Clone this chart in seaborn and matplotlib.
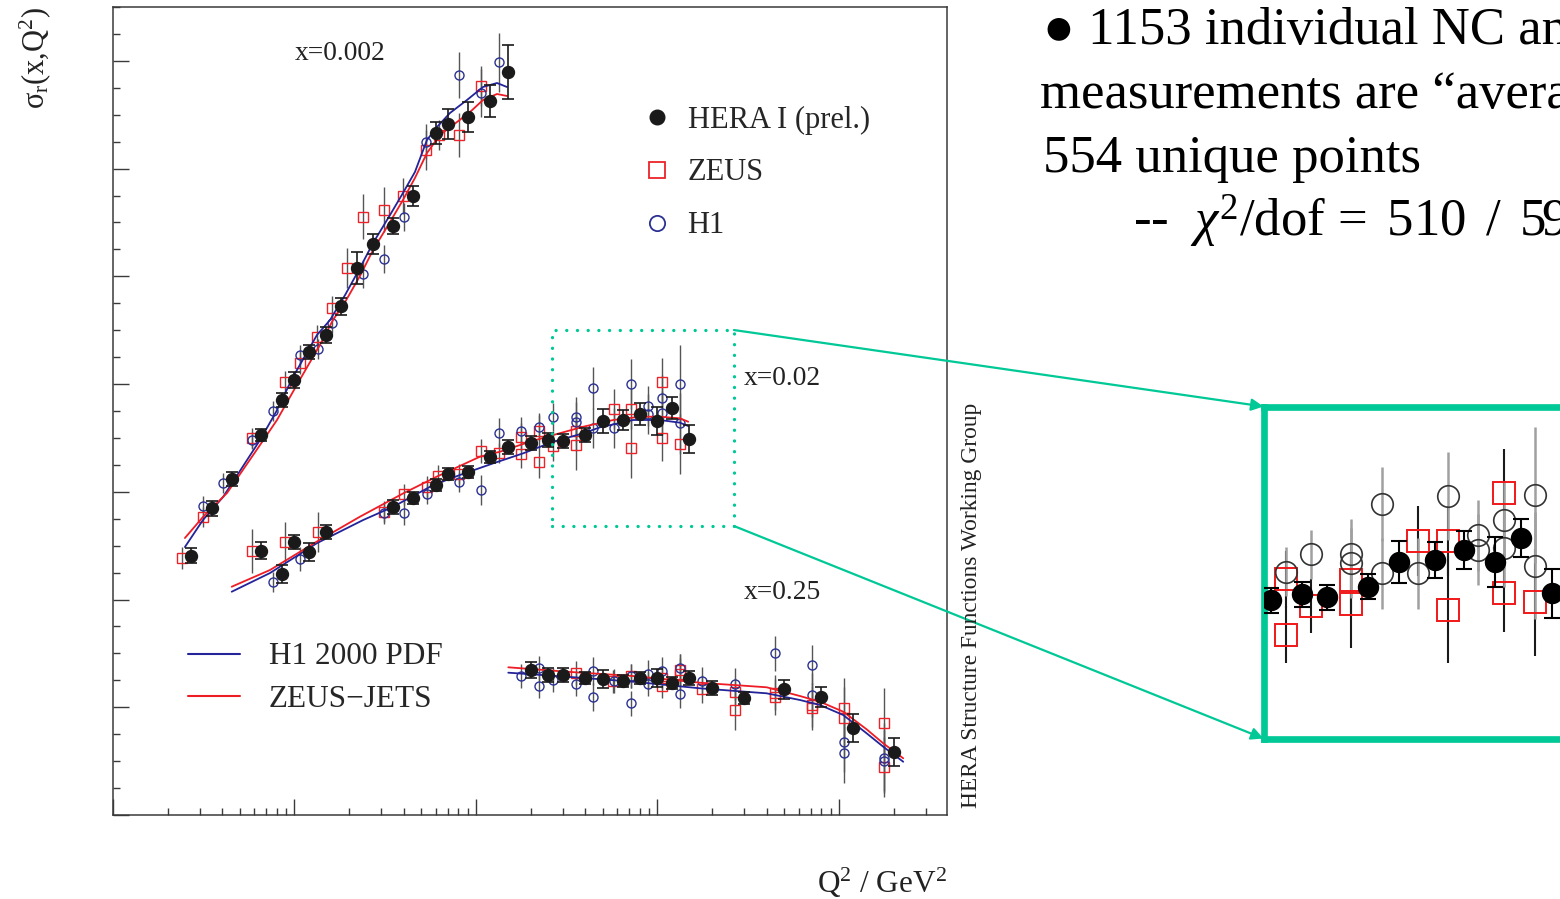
import numpy as np
import pandas as pd
import matplotlib
matplotlib.use("Agg")
import matplotlib.pyplot as plt
import seaborn as sns
from matplotlib.lines import Line2D
from matplotlib.patches import Rectangle, ConnectionPatch
from matplotlib.ticker import LogLocator, NullFormatter, MultipleLocator

# ---------------- reduced cross section sigma_r(x, Q^2) ----------------
# x = 0.002
q2_hera_002 = [2.7, 3.5, 4.5, 6.5, 8.5, 10, 12, 15, 18, 22, 27, 35, 45, 60, 70, 90, 120, 150]
sr_hera_002 = [0.481, 0.569, 0.624, 0.705, 0.770, 0.808, 0.859, 0.891, 0.944, 1.015, 1.060,
               1.094, 1.149, 1.266, 1.283, 1.296, 1.326, 1.379]
er_hera_002 = [0.014, 0.013, 0.013, 0.011, 0.013, 0.015, 0.013, 0.015, 0.015, 0.030, 0.019,
               0.015, 0.019, 0.020, 0.028, 0.028, 0.030, 0.050]

q2_zeus_002 = [2.40, 3.15, 5.81, 8.90, 10.7, 13.3, 16.0, 19.5, 23.9, 31.2, 39.8, 53.2, 62.8, 80.3, 106.5]
sr_zeus_002 = [0.477, 0.553, 0.699, 0.803, 0.840, 0.888, 0.941, 1.015, 1.111, 1.124, 1.149,
               1.235, 1.262, 1.262, 1.354]
er_zeus_002 = [0.020, 0.019, 0.019, 0.022, 0.022, 0.022, 0.022, 0.037, 0.041, 0.041, 0.033,
               0.037, 0.028, 0.041, 0.037]

q2_h1_002 = [3.12, 4.02, 5.81, 7.64, 10.7, 13.4, 16.1, 23.9, 31.2, 40.1, 53.2, 80.3, 106.5, 133.4]
sr_h1_002 = [0.574, 0.616, 0.696, 0.750, 0.854, 0.865, 0.914, 1.004, 1.032, 1.110, 1.250,
             1.374, 1.340, 1.397]
er_h1_002 = [0.019, 0.019, 0.015, 0.019, 0.019, 0.019, 0.019, 0.026, 0.026, 0.026, 0.032,
             0.043, 0.045, 0.054]

# x = 0.02
q2_hera_02 = [6.5, 8.5, 10, 12, 15, 35, 45, 60, 70, 90, 120, 150, 200, 250, 300, 400, 500,
              650, 800, 1000, 1200, 1500]
sr_hera_02 = [0.491, 0.447, 0.507, 0.488, 0.525, 0.571, 0.588, 0.613, 0.633, 0.636, 0.665,
              0.683, 0.691, 0.697, 0.694, 0.705, 0.731, 0.733, 0.744, 0.731, 0.756, 0.698]
er_hera_02 = [0.015, 0.017, 0.013, 0.017, 0.013, 0.013, 0.011, 0.011, 0.011, 0.011, 0.011,
              0.013, 0.013, 0.013, 0.013, 0.013, 0.022, 0.019, 0.020, 0.026, 0.020, 0.026]

q2_zeus_02 = [5.81, 8.90, 13.4, 31.1, 40.3, 53.5, 62.0, 80.6, 106.5, 133.9, 177, 177, 222, 222,
              267, 356, 356, 576, 712, 712, 1063, 1063, 1330]
sr_zeus_02 = [0.490, 0.507, 0.525, 0.563, 0.595, 0.608, 0.630, 0.633, 0.676, 0.672, 0.702,
              0.670, 0.713, 0.655, 0.685, 0.687, 0.712, 0.753, 0.753, 0.681, 0.803, 0.699, 0.689]
er_zeus_02 = [0.041, 0.037, 0.037, 0.019, 0.019, 0.022, 0.019, 0.019, 0.022, 0.019, 0.026,
              0.026, 0.030, 0.030, 0.028, 0.046, 0.037, 0.037, 0.037, 0.056, 0.046, 0.041, 0.056]

q2_h1_02 = [7.64, 10.7, 31.1, 40.3, 53.5, 80.6, 106.5, 133.4, 176, 222, 267, 356, 356, 443,
            443, 576, 712, 883, 883, 1063, 1063, 1330, 1330]
sr_h1_02 = [0.433, 0.475, 0.560, 0.560, 0.596, 0.618, 0.603, 0.709, 0.713, 0.721, 0.739,
            0.739, 0.730, 0.792, 0.719, 0.719, 0.800, 0.759, 0.744, 0.775, 0.746, 0.801, 0.727]
er_h1_02 = [0.019, 0.022, 0.019, 0.022, 0.019, 0.019, 0.028, 0.028, 0.026, 0.026, 0.026,
            0.037, 0.037, 0.039, 0.037, 0.037, 0.046, 0.037, 0.037, 0.041, 0.041, 0.071, 0.056]

# x = 0.25
q2_hera_25 = [200, 250, 300, 400, 500, 650, 800, 1000, 1200, 1500, 2000, 3000, 5000, 8000,
              12000, 20000]
sr_hera_25 = [0.269, 0.260, 0.260, 0.254, 0.252, 0.248, 0.254, 0.254, 0.245, 0.254, 0.235,
              0.217, 0.233, 0.219, 0.162, 0.117]
er_hera_25 = [0.015, 0.013, 0.013, 0.011, 0.017, 0.011, 0.011, 0.017, 0.011, 0.013, 0.013,
              0.011, 0.017, 0.019, 0.026, 0.026]

q2_zeus_25 = [356, 571, 712, 1063, 1063, 1330, 1330, 1765, 2663, 2663, 4441, 4441, 7072, 7072,
              10614, 10614, 17697, 17697]
sr_zeus_25 = [0.263, 0.248, 0.258, 0.255, 0.240, 0.269, 0.262, 0.233, 0.229, 0.194, 0.227,
              0.219, 0.204, 0.198, 0.199, 0.181, 0.170, 0.089]
er_zeus_25 = [0.022, 0.022, 0.022, 0.022, 0.022, 0.030, 0.030, 0.026, 0.026, 0.037, 0.033,
              0.033, 0.041, 0.041, 0.056, 0.056, 0.065, 0.056]

q2_h1_25 = [177, 222, 222, 267, 356, 443, 443, 576, 712, 712, 883, 883, 1063, 1330, 1330,
            1765, 2663, 4441, 7072, 7072, 10614, 10614, 17697, 17697]
sr_h1_25 = [0.258, 0.273, 0.239, 0.251, 0.243, 0.268, 0.219, 0.249, 0.258, 0.207, 0.262,
            0.243, 0.268, 0.272, 0.225, 0.249, 0.243, 0.300, 0.278, 0.223, 0.136, 0.115,
            0.105, 0.101]
er_h1_25 = [0.022, 0.022, 0.022, 0.022, 0.022, 0.026, 0.026, 0.022, 0.022, 0.024, 0.026,
            0.022, 0.026, 0.026, 0.026, 0.026, 0.030, 0.032, 0.037, 0.041, 0.056, 0.056,
            0.065, 0.056]

# ---------------- PDF fit curves ----------------
q2_h1pdf_002 = [2.49, 3.13, 4.04, 6.46, 7.91, 9.81, 13.3, 15.7, 19.0, 22.95, 27.1, 33.6, 39.6,
                46.1, 53.7, 61.0, 71.9, 89.2, 109.3, 130.6, 148.2]
sr_h1pdf_002 = [0.4975, 0.5476, 0.5903, 0.6962, 0.7481, 0.8131, 0.8911, 0.9189, 0.9653, 1.0155,
                1.0619, 1.1138, 1.1547, 1.1937, 1.2531, 1.2772, 1.3032, 1.3273, 1.3515, 1.3589,
                1.3515]
q2_zj_002 = [2.49, 3.13, 4.25, 6.46, 8.01, 10.3, 13.8, 16.3, 19.0, 22.95, 27.1, 33.6, 39.6,
             46.1, 53.7, 63.3, 78.6, 92.7, 109.3, 130.6, 148.2]
sr_zj_002 = [0.5142, 0.5532, 0.5978, 0.6869, 0.7333, 0.7983, 0.8725, 0.9189, 0.9523, 1.0006,
             1.0489, 1.1008, 1.1417, 1.1825, 1.2289, 1.2624, 1.2865, 1.3050, 1.3273, 1.3385,
             1.3348]

q2_h1pdf_02 = [4.51, 7.33, 13.25, 23.9, 35.0, 58.2, 81.6, 124.6, 182.2, 266.7, 390.1, 482.4,
               735.6, 1032, 1330, 1478]
sr_h1pdf_02 = [0.4145, 0.4492, 0.5044, 0.5476, 0.5723, 0.6126, 0.6312, 0.6529, 0.6715, 0.6930,
               0.7086, 0.7197, 0.7333, 0.7333, 0.7283, 0.7221]
q2_zj_02 = [4.51, 7.33, 13.25, 22.95, 39.8, 60.7, 105.2, 135.6, 198.4, 266.7, 390.1, 570.8,
            801.3, 1032, 1330, 1478]
sr_zj_02 = [0.4238, 0.4548, 0.5074, 0.5538, 0.5972, 0.6280, 0.6652, 0.6744, 0.6930, 0.7054,
            0.7208, 0.7333, 0.7394, 0.7394, 0.7364, 0.7301]

q2_fit_25 = [150.7, 316, 735.6, 1715, 3996, 6097, 7859, 10560, 14210, 17540, 22610]
sr_h1pdf_25 = [0.2642, 0.2567, 0.2475, 0.2352, 0.2259, 0.2135, 0.2042, 0.1856, 0.1517, 0.1268, 0.0989]
sr_zj_25 = [0.2742, 0.2660, 0.2580, 0.2456, 0.2371, 0.2209, 0.2103, 0.1918, 0.1591, 0.1331, 0.1053]

# region shown magnified on the right
zoom_q2 = (262, 2640)
zoom_sr = (0.5365, 0.9003)
inset_q2 = (189.5, 1907)
inset_sr = (0.546, 0.894)

bin_labels = ["x=0.002", "x=0.02", "x=0.25"]
bin_label_pos = [(17.8, 1.413), (4852, 0.811), (4852, 0.413)]

# ---------------- style ----------------
sns.set_theme(style="ticks")
plt.rcParams["font.family"] = ["Liberation Serif", "DejaVu Sans"]
plt.rcParams["mathtext.fontset"] = "custom"
plt.rcParams["mathtext.rm"] = "Liberation Serif"
plt.rcParams["mathtext.it"] = "Liberation Serif:italic"
plt.rcParams["mathtext.bf"] = "Liberation Serif:bold"

BLACK = "#1a1a1a"
RED = "#ec2329"
BLUE = "#2b3192"
CURVE_BLUE = "#23239a"
CURVE_RED = "#ee1c25"
TEAL = "#00c896"
SPINE = "#3a3a3a"

W, H = 1560, 899
fig = plt.figure(figsize=(W / 100, H / 100), dpi=100)
fig.patch.set_facecolor("white")

ax = fig.add_axes([113 / W, 1 - 815 / H, (947 - 113) / W, (815 - 7) / H])
ax.set_xscale("log")
ax.set_xlim(1, 39400)
ax.set_ylim(0, 1.5)

# fit curves
curve_frames = []
for name, q, s, b in [
    ("H1 2000 PDF", q2_h1pdf_002, sr_h1pdf_002, "0.002"),
    ("ZEUS-JETS", q2_zj_002, sr_zj_002, "0.002"),
    ("H1 2000 PDF", q2_h1pdf_02, sr_h1pdf_02, "0.02"),
    ("ZEUS-JETS", q2_zj_02, sr_zj_02, "0.02"),
    ("H1 2000 PDF", q2_fit_25, sr_h1pdf_25, "0.25"),
    ("ZEUS-JETS", q2_fit_25, sr_zj_25, "0.25"),
]:
    curve_frames.append(pd.DataFrame({"Q2": q, "sigma": s, "pdf": name, "bin": b}))
curves = pd.concat(curve_frames, ignore_index=True)
sns.lineplot(data=curves, x="Q2", y="sigma", hue="pdf", units="bin", estimator=None,
             sort=False, palette={"H1 2000 PDF": CURVE_BLUE, "ZEUS-JETS": CURVE_RED},
             linewidth=1.3, legend=False, ax=ax, zorder=3)

zeus_sets = [(q2_zeus_002, sr_zeus_002, er_zeus_002), (q2_zeus_02, sr_zeus_02, er_zeus_02),
             (q2_zeus_25, sr_zeus_25, er_zeus_25)]
h1_sets = [(q2_h1_002, sr_h1_002, er_h1_002), (q2_h1_02, sr_h1_02, er_h1_02),
           (q2_h1_25, sr_h1_25, er_h1_25)]
hera_sets = [(q2_hera_002, sr_hera_002, er_hera_002), (q2_hera_02, sr_hera_02, er_hera_02),
             (q2_hera_25, sr_hera_25, er_hera_25)]

for q, s, e in zeus_sets:
    ax.errorbar(q, s, yerr=e, fmt="s", ms=7, mfc="none", mec=RED, mew=1.0,
                ecolor="#555555", elinewidth=1.0, capsize=0, zorder=2)
for q, s, e in h1_sets:
    ax.errorbar(q, s, yerr=e, fmt="o", ms=6.5, mfc="none", mec=BLUE, mew=1.0,
                ecolor="#555555", elinewidth=1.0, capsize=0, zorder=2)
for q, s, e in hera_sets:
    ax.errorbar(q, s, yerr=e, fmt="o", ms=8.6, color=BLACK, mec=BLACK,
                ecolor=BLACK, elinewidth=1.2, capsize=4.3, capthick=1.2, zorder=4)

for lab, (qx, sy) in zip(bin_labels, bin_label_pos):
    ax.text(qx, sy, lab, fontsize=19.8, ha="center", va="center", color="#222222")

# axis cosmetics
ax.xaxis.set_major_locator(LogLocator(base=10, numticks=20))
ax.xaxis.set_minor_locator(LogLocator(base=10, subs=np.arange(2, 10), numticks=100))
ax.xaxis.set_major_formatter(NullFormatter())
ax.xaxis.set_minor_formatter(NullFormatter())
ax.yaxis.set_major_locator(MultipleLocator(0.2))
ax.yaxis.set_minor_locator(MultipleLocator(0.05))
ax.yaxis.set_major_formatter(NullFormatter())
ax.yaxis.set_minor_formatter(NullFormatter())
ax.tick_params(which="major", direction="in", length=11.3, width=1.0, color=SPINE,
               top=False, right=False)
ax.tick_params(which="minor", direction="in", length=5.3, width=1.0, color=SPINE,
               top=False, right=False)
for sp in ax.spines.values():
    sp.set_color(SPINE)
    sp.set_linewidth(1.1)
ax.set_xlabel("")
ax.set_ylabel("")

# legends
data_handles = [
    Line2D([], [], ls="none", marker="o", ms=10.5, color=BLACK, label="HERA I (prel.)"),
    Line2D([], [], ls="none", marker="s", ms=11, mfc="none", mec=RED, mew=1.3, label="ZEUS"),
    Line2D([], [], ls="none", marker="o", ms=11, mfc="none", mec=BLUE, mew=1.3, label="H1"),
]
leg1 = ax.legend(handles=data_handles, loc="upper left", bbox_to_anchor=(0.634, 0.878),
                 frameon=False, fontsize=22, handlelength=1.0, handletextpad=0.5,
                 labelspacing=0.78, borderpad=0, borderaxespad=0)
ax.add_artist(leg1)
fit_handles = [
    Line2D([], [], color=CURVE_BLUE, lw=1.5, label="H1 2000 PDF"),
    Line2D([], [], color=CURVE_RED, lw=1.5, label="ZEUS\u2212JETS"),
]
ax.legend(handles=fit_handles, loc="upper left", bbox_to_anchor=(0.0899, 0.2135),
          frameon=False, fontsize=22.5, handlelength=1.66, handletextpad=0.93,
          labelspacing=0.44, borderpad=0, borderaxespad=0)

# dotted box marking the magnified region
ax.add_patch(Rectangle((zoom_q2[0], zoom_sr[0]), zoom_q2[1] - zoom_q2[0], zoom_sr[1] - zoom_sr[0],
                       fill=False, edgecolor=TEAL, lw=2.4, linestyle=(0, (0.01, 3.2)),
                       capstyle="round", zorder=6))

# magnified view
ax_in = fig.add_axes([1263.5 / W, 1 - 738.5 / H, 321.5 / W, 332 / H])
ax_in.set_xscale("log")
ax_in.set_xlim(*inset_q2)
ax_in.set_ylim(*inset_sr)
for q, s, e in zeus_sets:
    ax_in.errorbar(q, s, yerr=e, fmt="s", ms=15.5, mfc="none", mec="#f01818", mew=1.4,
                   ecolor=BLACK, elinewidth=1.5, capsize=0, zorder=2)
for q, s, e in h1_sets:
    ax_in.errorbar(q, s, yerr=e, fmt="o", ms=15.5, mfc="none", mec="#333333", mew=1.2,
                   ecolor="#a0a0a0", elinewidth=1.8, capsize=0, zorder=2)
for q, s, e in hera_sets:
    ax_in.errorbar(q, s, yerr=e, fmt="o", ms=14.4, color="black", ecolor="black",
                   elinewidth=1.5, capsize=6, capthick=1.5, zorder=4)
ax_in.set_xticks([])
ax_in.set_yticks([])
ax_in.minorticks_off()
ax_in.set_xlabel("")
ax_in.set_ylabel("")
for sp in ax_in.spines.values():
    sp.set_color(TEAL)
    sp.set_linewidth(4.8)

for corner_sr, corner_in in [(zoom_sr[1], (0, 1)), (zoom_sr[0], (0, 0))]:
    con = ConnectionPatch(xyA=(zoom_q2[1], corner_sr), coordsA=ax.transData,
                          xyB=corner_in, coordsB=ax_in.transAxes, arrowstyle="-|>",
                          mutation_scale=18, color=TEAL, lw=1.6, shrinkA=0, shrinkB=0)
    fig.add_artist(con)

# labels around the frame
fig.text(35 / W, 1 - 7 / H, r"σ$_\mathrm{r}$(x,Q$^\mathrm{2}$)", rotation=90, fontsize=22,
         ha="center", va="top", color="#222222")
fig.text(947 / W, 1 - 893 / H, r"Q$^\mathrm{2}$ / GeV$^\mathrm{2}$", fontsize=22.5,
         ha="right", va="baseline", color="#222222")
fig.text(972 / W, 1 - 808 / H, "HERA Structure Functions Working Group", rotation=90,
         fontsize=16.8, ha="center", va="bottom", color="#222222")

# notes (the slide text runs on past the right edge of the figure)
note_kw = dict(fontsize=38, ha="left", va="baseline", color="black")
fig.text(1043 / W, 1 - 44 / H, "\u25cf 1153 individual NC and CC", **note_kw)
fig.text(1040 / W, 1 - 108 / H, "measurements are \u201caveraged\u201d to", **note_kw)
fig.text(1043 / W, 1 - 172 / H, "554 unique points", **note_kw)
fig.text(1133 / W, 1 - 236 / H,
         r"--  $\chi^{\mathrm{2}}$/dof = $\,$510$\,$ / $\,$599", **note_kw)

fig.savefig("out.png", dpi=100)
